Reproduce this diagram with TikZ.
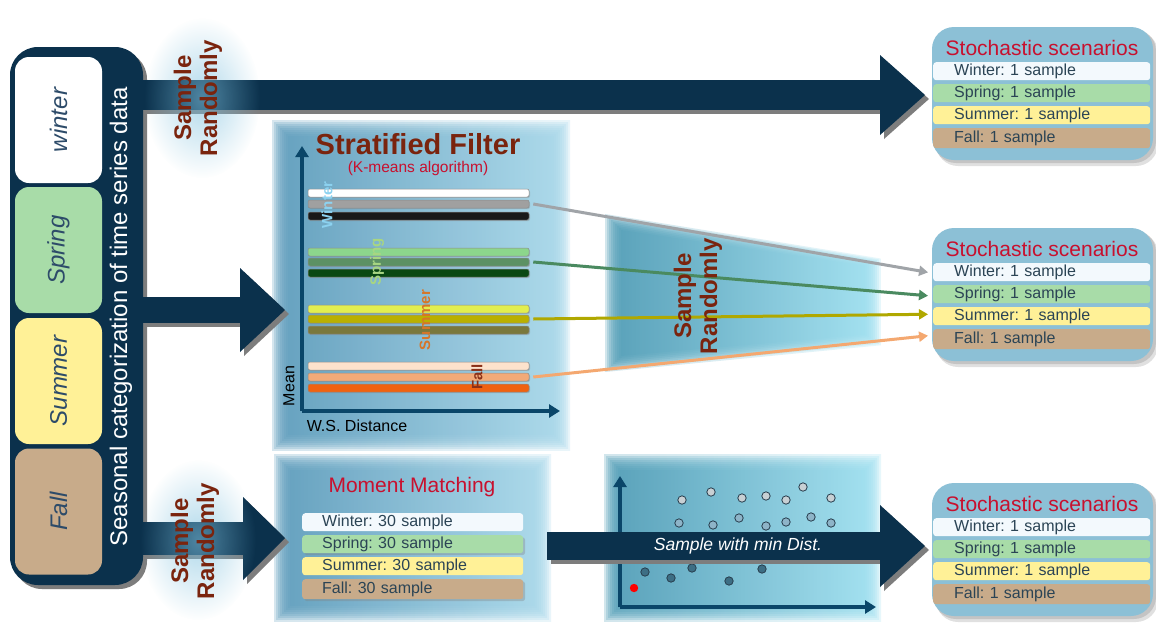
\documentclass[tikz,border=0pt]{standalone}
\usepackage{fontspec}
\setmainfont{Liberation Sans}
\usetikzlibrary{arrows.meta,fadings,shadows}
\frenchspacing

\definecolor{navy}{RGB}{11,49,76}
\definecolor{shadowgray}{RGB}{125,125,125}
\definecolor{brick}{RGB}{122,36,14}
\definecolor{scarlet}{RGB}{200,16,46}
\definecolor{boxblue}{RGB}{140,192,214}
\definecolor{glowblue}{RGB}{125,192,222}
\definecolor{rowwhite}{RGB}{243,249,253}
\definecolor{rowgreen}{RGB}{168,220,168}
\definecolor{rowyellow}{RGB}{255,241,151}
\definecolor{rowtan}{RGB}{200,171,138}
\definecolor{rowtext}{RGB}{43,68,85}
\definecolor{seasontext}{RGB}{45,75,105}
\definecolor{panelleft}{RGB}{92,156,188}
\definecolor{panelright}{RGB}{170,218,236}
\definecolor{cyanleft}{RGB}{78,156,182}
\definecolor{cyanright}{RGB}{160,226,242}
\definecolor{axisblue}{RGB}{10,70,105}
% bar colours
\definecolor{wA}{RGB}{255,255,255}\definecolor{wB}{RGB}{160,160,160}\definecolor{wC}{RGB}{25,25,25}
\definecolor{sA}{RGB}{140,214,140}\definecolor{sB}{RGB}{92,145,100}\definecolor{sC}{RGB}{10,72,18}
\definecolor{uA}{RGB}{226,238,80}\definecolor{uB}{RGB}{186,176,0}\definecolor{uC}{RGB}{122,120,60}
\definecolor{fA}{RGB}{253,226,204}\definecolor{fB}{RGB}{242,170,120}\definecolor{fC}{RGB}{240,98,16}
% connector colours
\definecolor{lgray}{RGB}{160,164,168}
\definecolor{lgreen}{RGB}{74,138,96}
\definecolor{lolive}{RGB}{176,168,0}
\definecolor{lorange}{RGB}{244,168,112}
% scatter dots
\definecolor{dotA}{RGB}{200,208,212}\definecolor{dotB}{RGB}{142,180,200}\definecolor{dotC}{RGB}{61,110,132}
\definecolor{dotline}{RGB}{40,62,78}

\tikzfading[name=softglow, inner color=transparent!0, outer color=transparent!100]

\newcommand\rowfont{\fontsize{16}{18}\selectfont}
\newcommand\titlefont{\fontsize{21}{24}\selectfont}
\newcommand\srfont{\fontsize{24}{26}\selectfont\bfseries}
\newcommand\seasonfont{\fontsize{24}{26}\selectfont\itshape}

% dark panel with its block arrows
\newcommand\flowpath[1]{%
  \fill[#1, rounded corners=28pt] (10,47) rectangle (143,585);
  \fill[#1] (138,80) rectangle (882,110);
  \fill[#1] (880,55) -- (925,95) -- (880,135) -- cycle;
  \fill[#1] (138,297) rectangle (242,323);
  \fill[#1] (240,268) -- (285,310) -- (240,352) -- cycle;
  \fill[#1] (138,522) rectangle (245,555);
  \fill[#1] (243,497) -- (285,538) -- (243,580) -- cycle;
  \fill[#1] (547,532) rectangle (882,560);
  \fill[#1] (880,505) -- (925,546) -- (880,587) -- cycle;
}

% light blue panel with soft edges: x1 y1 x2 y2 left right
\newcommand\softpanel[6]{%
  \foreach \g in {-8,-6,...,8}{\shade[left color=#5, right color=#6, opacity=0.25]
    ({#1-(\g)},{#2-(\g)}) rectangle ({#3+\g},{#4+\g});}
}

% scenario box: name, top edge
\newcommand\scenarios[2]{%
  \fill[black, opacity=0.12, rounded corners=22pt] (936,{#2+4}) rectangle (1158,{#2+139});
  \fill[black, opacity=0.12, rounded corners=22pt] (934,{#2+2}) rectangle (1156,{#2+136});
  \node[stochbox] (#1) at (1042.5,{#2+66.5}) {};
  \node[stochtitle] (#1-t) at (1042,{#2+21}) {Stochastic scenarios};
  \node[row, fill=rowwhite]  (#1-w) at (933,{#2+35}) {Winter: 1 sample};
  \node[row, fill=rowgreen]  (#1-s) at (933,{#2+57}) {Spring: 1 sample};
  \node[row, fill=rowyellow] (#1-u) at (933,{#2+79}) {Summer: 1 sample};
  \node[row, fill=rowtan, minimum height=20pt] (#1-f) at (933,{#2+101}) {Fall: 1 sample};
}

\begin{document}
\begin{tikzpicture}[x=1pt, y=-1pt,
  stochbox/.style={minimum width=221pt, minimum height=133pt, rounded corners=22pt, fill=boxblue, inner sep=0pt},
  stochtitle/.style={font=\titlefont, text=scarlet, inner sep=0pt},
  row/.style={anchor=north west, rounded corners=3pt, minimum height=18pt, inner xsep=21pt, inner ysep=0pt,
    text width=175pt, align=left, font=\rowfont, text=rowtext},
  mrow/.style={row, inner xsep=20pt, text width=181pt},
  season/.style={rotate=90, minimum width=126pt, minimum height=87pt, rounded corners=14pt, inner sep=0pt,
    font=\seasonfont, text=seasontext},
  srlabel/.style={rotate=90, align=center, font=\srfont, text=brick, inner sep=0pt},
  bar/.style={minimum width=221pt, minimum height=8pt, inner sep=0pt, rounded corners=2pt, draw=black!45,
    line width=0.5pt, drop shadow={shadow xshift=1pt, shadow yshift=-1pt, opacity=0.35}},
  barlabel/.style={rotate=90, font=\fontsize{15}{17}\selectfont\bfseries, inner sep=0pt},
  axis/.style={axisblue, line width=3.5pt, -{Triangle[length=11pt, width=13pt]}},
  link/.style={line width=3pt, -{Triangle[length=9pt, width=10pt]}, shorten >=5pt},
  dot/.style={draw=dotline, line width=0.8pt}]

\useasboundingbox (0,0) rectangle (1156,627);
\fill[white] (0,0) rectangle (1156,627);

% ---- light panels ----
\softpanel{280}{128}{562}{442}{panelleft}{panelright}
\softpanel{282}{462}{543}{613}{panelleft}{panelright}
\softpanel{612}{462}{873}{613}{cyanleft}{cyanright}
% sampling band between filter and scenarios
\foreach \k in {-4,...,4}{
  \begin{scope}[shift={(743,293)}, xscale={1+0.015*\k}, yscale={1+0.028*\k}]
    \shade[left color=cyanleft, right color=cyanright, opacity=0.25]
      (-130,-71) -- (130,-31) -- (130,47) -- (-130,71) -- cycle;
  \end{scope}}

% ---- scenario boxes ----
\scenarios{s1}{27}
\scenarios{s2}{228}
\scenarios{s3}{483}

% ---- scatter plot ----
\draw[axis] (620,607) -- (620,476);
\draw[axis] (620,607) -- (876,607);
\foreach \x/\y in {682/500,711/492,742/498,766/496,786/500,803/487,831/498}
  \fill[dot, fill=dotA] (\x,\y) circle (4.2pt);
\foreach \x/\y in {679/523,713/525,739/518,766/526,786/522,811/517,831/523}
  \fill[dot, fill=dotB] (\x,\y) circle (4.2pt);
\foreach \x/\y in {645/572,671/578,692/568,729/581,762/569}
  \fill[dot, fill=dotC] (\x,\y) circle (4.2pt);
\fill[red] (634,588) circle (4.2pt);

% ---- dark panel and block arrows ----
\flowpath{shadowgray, shift={(4,4)}}
\flowpath{navy}

% soft glows behind the sampling labels
\fill[glowblue, opacity=0.6, path fading=softglow] (202,98) ellipse [x radius=58, y radius=80];
\fill[glowblue, opacity=0.6, path fading=softglow] (198,540) ellipse [x radius=58, y radius=80];

% ---- seasons ----
\node[season, fill=white]     (winter) at (58.5,120)   {winter};
\node[season, fill=rowgreen]  (spring) at (58.5,250)   {Spring};
\node[season, fill=rowyellow] (summer) at (58.5,381)   {Summer};
\node[season, fill=rowtan]    (fall)   at (58.5,511.5) {Fall};
\node[rotate=90, text=white, font=\fontsize{24}{26}\selectfont, inner sep=0pt] (category) at (121,317)
  {Seasonal categorization of time series data};

\node[srlabel] (sr-top) at (198,98)  {Sample\\Randomly};
\node[srlabel] (sr-bot) at (195,541) {Sample\\Randomly};

% ---- stratified filter ----
\node[font=\fontsize{29}{32}\selectfont\bfseries, text=brick, inner sep=0pt] (sf-title) at (418,144) {Stratified Filter};
\node[font=\fontsize{15.5}{18}\selectfont, text=scarlet, inner sep=0pt] (sf-sub) at (418,168) {(K-means algorithm)};
\draw[axis] (302,411) -- (302,146);
\draw[axis] (302,411) -- (560,411);
\node[rotate=90, font=\fontsize{16}{18}\selectfont, inner sep=0pt] (mean) at (289,386) {Mean};
\node[font=\fontsize{16}{18}\selectfont, inner sep=0pt] (wsd) at (357,426) {W.S. Distance};

\node[bar, fill=wA] (w1) at (418.5,193) {};
\node[bar, fill=wB] (w2) at (418.5,204) {};
\node[bar, fill=wC] (w3) at (418.5,216) {};
\node[bar, fill=sA] (p1) at (418.5,252) {};
\node[bar, fill=sB] (p2) at (418.5,262) {};
\node[bar, fill=sC] (p3) at (418.5,273) {};
\node[bar, fill=uA] (u1) at (418.5,309) {};
\node[bar, fill=uB] (u2) at (418.5,319) {};
\node[bar, fill=uC] (u3) at (418.5,330) {};
\node[bar, fill=fA] (f1) at (418.5,366) {};
\node[bar, fill=fB] (f2) at (418.5,377) {};
\node[bar, fill=fC] (f3) at (418.5,388) {};

\node[barlabel, text={rgb,255:red,140;green,210;blue,240}] (lw) at (327,205) {Winter};
\node[barlabel, text={rgb,255:red,168;green,214;blue,130}] (lp) at (377,262) {Spring};
\node[barlabel, text={rgb,255:red,214;green,118;blue,40}]  (lu) at (425,320) {Summer};
\node[barlabel, text={rgb,255:red,138;green,48;blue,24}]   (lf) at (477,377) {Fall};

% sampled clusters
\draw[link, lgray]   ([xshift=4pt]w2.east) -- ([yshift=-1pt]s2-w.west);
\draw[link, lgreen]  ([xshift=4pt]p2.east) -- ([yshift=-2pt]s2-s.west);
\draw[link, lolive]  ([xshift=4pt]u2.east) -- ([yshift=2pt]s2-u.west);
\draw[link, lorange] ([xshift=4pt]f2.east) -- ([yshift=4pt]s2-f.west);
\node[srlabel] (sr-mid) at (698,296) {Sample\\Randomly};

% ---- moment matching ----
\node[stochtitle] (mm-title) at (412,487) {Moment Matching};
\node[mrow, fill=rowwhite]  (mm-w) at (302,513) {Winter: 30 sample};
\node[mrow, fill=rowgreen, drop shadow={shadow xshift=2pt, shadow yshift=-2pt, opacity=0.35}]  (mm-s) at (302,535) {Spring: 30 sample};
\node[mrow, fill=rowyellow] (mm-u) at (302,557) {Summer: 30 sample};
\node[mrow, fill=rowtan, minimum height=20pt, drop shadow={shadow xshift=2pt, shadow yshift=-2pt, opacity=0.35}] (mm-f) at (302,579) {Fall: 30 sample};

\node[text=white, font=\fontsize{17.5}{20}\selectfont\itshape, inner sep=0pt] (mindist) at (738,546) {Sample with min Dist.};
\end{tikzpicture}
\end{document}
